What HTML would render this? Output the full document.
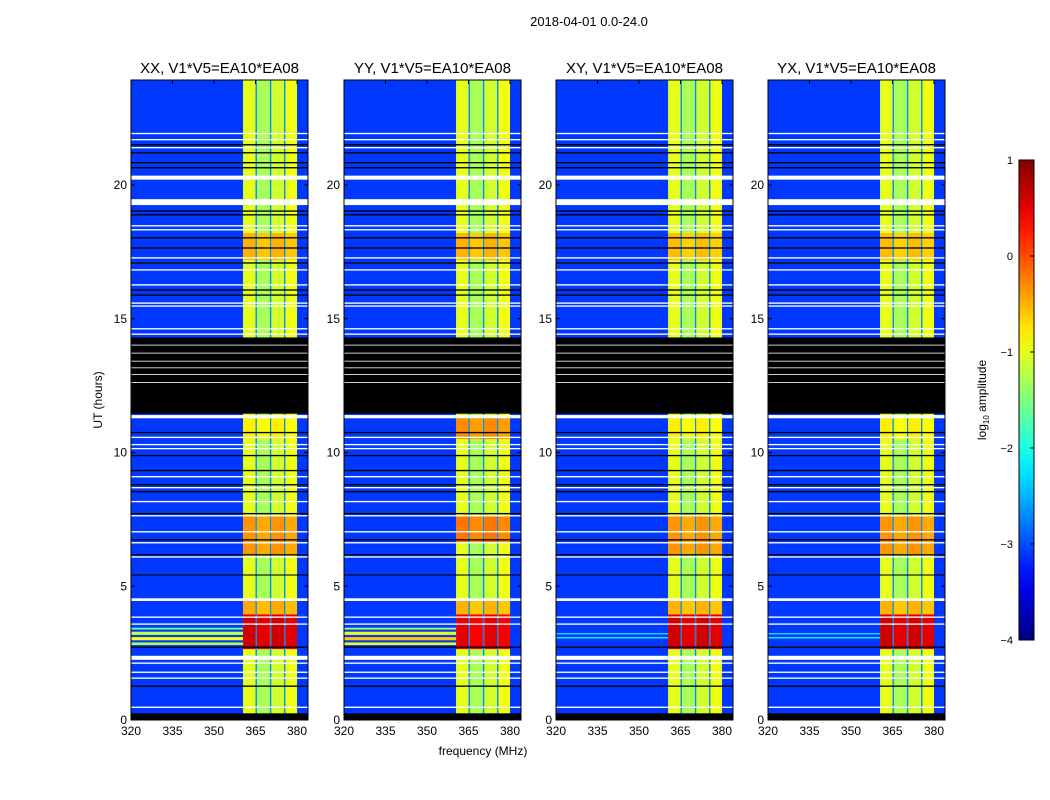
<!DOCTYPE html>
<html><head><meta charset="utf-8"><style>
body{margin:0;background:#fff;}
svg{display:block;font-family:"Liberation Sans",sans-serif;}
</style></head><body>
<svg id="fig" width="1050" height="800" viewBox="0 0 1050 800">
<text x="589" y="26" font-size="13" text-anchor="middle">2018-04-01 0.0-24.0</text>
<text x="483" y="755" font-size="12" text-anchor="middle">frequency (MHz)</text>
<text transform="translate(102,400) rotate(-90)" font-size="12" text-anchor="middle">UT (hours)</text>
<g id="panels"></g>
<g id="cbar"></g>
<text transform="translate(986,400) rotate(-90)" font-size="12" text-anchor="middle">log<tspan font-size="8" dy="3">10</tspan><tspan dy="-3"> amplitude</tspan></text>
</svg>
<script>
const panelTitles=["XX, V1*V5=EA10*EA08","YY, V1*V5=EA10*EA08","XY, V1*V5=EA10*EA08","YX, V1*V5=EA10*EA08"];
const panelLeft=[131,344,556,768];
const xTicks=[320,335,350,365,380];
const yTicks=[0,5,10,15,20];
const cbTicks=[1,0,-1,-2,-3,-4];
const bgValue=-3.1;
const gapValue=-2.7;
const bandCols=[[360.5,365],[365.5,370.2],[370.7,375.3],[375.8,380]];
const bandColBase=[-1.0,-1.3,-1.1,-0.95];
const bandSegsXX=[[2.65,3.95,0.6],[3.95,4.5,-0.45],[6.2,7.65,-0.35],[10.5,11.4,-0.8],[17.2,18.2,-0.5]];
const bandSegsYY=[[2.65,3.95,0.5],[3.95,4.5,-0.5],[6.6,7.65,-0.2],[10.5,11.4,-0.3],[17.2,18.2,-0.5]];
const bandSegsXY=[[2.65,3.95,0.6],[3.95,4.5,-0.5],[6.2,7.65,-0.35],[10.5,11.4,-0.8],[17.2,18.2,-0.55]];
const bandSegsYX=[[2.65,3.95,0.6],[3.95,4.5,-0.5],[6.2,7.65,-0.35],[10.5,11.4,-0.8],[17.2,18.2,-0.55]];
const lowHotXX=[[2.8,2.9,-1.3],[2.98,3.1,-0.9],[3.18,3.3,-1.2],[3.38,3.45,-1.6]];
const lowHotYY=[[2.8,2.9,-1.0],[2.98,3.1,-0.6],[3.18,3.3,-1.0],[3.38,3.45,-1.3]];
const lowHotXY=[[3.05,3.1,-2.0],[3.2,3.25,-2.2]];
const lowHotYX=[[3.05,3.1,-2.0],[3.2,3.25,-2.2]];
const whiteFlags=[[21.9,0.05],[21.67,0.05],[21.37,0.05],[20.2,0.15],[19.25,0.22],[18.45,0.05],[18.3,0.05],[17.25,0.05],[16.8,0.05],[16.24,0.05],[15.56,0.05],[15.45,0.05],[14.6,0.05],[14.4,0.05],[11.28,0.12],[10.54,0.05],[10.27,0.05],[10.12,0.05],[9.07,0.05],[8.66,0.05],[8.14,0.05],[7.61,0.05],[7.01,0.05],[6.6,0.05],[6.07,0.05],[4.45,0.1],[3.82,0.05],[3.56,0.05],[2.25,0.15],[2.1,0.05],[1.76,0.05],[1.54,0.05],[0.45,0.05]];
const blackFlags=[[21.48,0.05],[21.18,0.05],[20.81,0.05],[20.62,0.05],[19.0,0.05],[18.86,0.05],[18.0,0.05],[17.62,0.05],[17.06,0.05],[16.05,0.05],[15.86,0.05],[10.72,0.05],[9.86,0.05],[9.3,0.05],[8.77,0.05],[8.51,0.05],[7.69,0.05],[6.71,0.05],[6.15,0.05],[5.4,0.04],[2.7,0.05],[1.24,0.05],[0,0.25],[11.45,2.85]];
const whiteInBlack=[[12.6,0.03],[12.9,0.03],[13.15,0.03],[13.4,0.03],[13.7,0.03],[14.0,0.03]];
const allSegs=[bandSegsXX,bandSegsYY,bandSegsXY,bandSegsYX];
const allLow=[lowHotXX,lowHotYY,lowHotXY,lowHotYX];

const NS="http://www.w3.org/2000/svg";
const yTop=80,yBot=720,pxPerH=26.75,pxPerMHz=2.767,pw=177;
function yS(h){return Math.max(yTop,yBot-h*pxPerH);}
function jet(v){const t=Math.min(1,Math.max(0,(v+4)/5));const c=x=>Math.round(255*Math.min(1,Math.max(0,x)));
return `rgb(${c(1.5-Math.abs(4*t-3))},${c(1.5-Math.abs(4*t-2))},${c(1.5-Math.abs(4*t-1))})`;}
function el(tag,attrs,parent){const e=document.createElementNS(NS,tag);for(const k in attrs)e.setAttribute(k,attrs[k]);parent.appendChild(e);return e;}
const panels=document.getElementById('panels');
function rowRect(g,x0,h0,h1,w,fill,name){const r=el('rect',{x:x0,y:yS(h1),width:w,height:Math.max(0.8,yS(h0)-yS(h1)),fill:fill},g);

return r;}
panelLeft.forEach((L,p)=>{
  const xS=f=>L+(f-320)*pxPerMHz;
  const g=el('g',{},panels);
  
  
  rowRect(g,L,0,24,pw,jet(bgValue),'background-cells');
  allLow[p].forEach(s=>rowRect(g,L,s[0],s[1],xS(360.5)-L,jet(s[2]),'low-freq-hot-row'));
  rowRect(g,xS(360.5),0,24,xS(380)-xS(360.5),jet(gapValue),'band-gap-cells');
  bandCols.forEach((c,ci)=>{
    rowRect(g,xS(c[0]),0,24,xS(c[1])-xS(c[0]),jet(bandColBase[ci]),'band-column');
    allSegs[p].forEach(s=>rowRect(g,xS(c[0]),s[0],s[1],xS(c[1])-xS(c[0]),jet(s[2]+(ci%2?-0.1:0)),'band-hot-cell'));
  });
  blackFlags.forEach(f=>rowRect(g,L,f[0],f[0]+f[1],pw,'#000','flag-black'));
  whiteFlags.forEach(f=>rowRect(g,L,f[0],f[0]+f[1],pw,'#fff','flag-white'));
  whiteInBlack.forEach(f=>rowRect(g,L,f[0],f[0]+f[1],pw,'#fff','flag-white'));
  const fr=el('rect',{x:L,y:yTop,width:pw,height:yBot-yTop,fill:'none',stroke:'#000','stroke-width':1},g);
  
  
  const t=el('text',{x:L+pw/2,y:73,'font-size':15,'text-anchor':'middle'},g);t.textContent=panelTitles[p];
  
  
  xTicks.forEach(v=>{const x=xS(v);
    el('line',{x1:x,x2:x,y1:yBot,y2:yBot-4,stroke:'#000'},g);el('line',{x1:x,x2:x,y1:yTop,y2:yTop+4,stroke:'#000'},g);
    const tx=el('text',{x:x,y:yBot+15,'font-size':12,'text-anchor':'middle'},g);tx.textContent=v;
    
    });
  yTicks.forEach(v=>{const y=yS(v);
    el('line',{x1:L,x2:L+4,y1:y,y2:y,stroke:'#000'},g);el('line',{x1:L+pw,x2:L+pw-4,y1:y,y2:y,stroke:'#000'},g);
    const ty=el('text',{x:L-4,y:y+4,'font-size':12,'text-anchor':'end'},g);ty.textContent=v;
    
    });
});
const cb=document.getElementById('cbar');
const cbX=1019,cbW=15,cbTop=160,cbBot=640;
const defs=el('defs',{},cb);const lg=el('linearGradient',{id:'jetg',x1:0,y1:1,x2:0,y2:0},defs);
for(let i=0;i<=20;i++){el('stop',{offset:i/20,'stop-color':jet(-4+5*i/20)},lg);}
const cr=el('rect',{x:cbX,y:cbTop,width:cbW,height:cbBot-cbTop,fill:'url(#jetg)',stroke:'#000'},cb);


cbTicks.forEach(v=>{const y=cbBot-(v+4)/5*(cbBot-cbTop);
  el('line',{x1:cbX+cbW,x2:cbX+cbW-4,y1:y,y2:y,stroke:'#000'},cb);
  const t=el('text',{x:1013,y:y+4,'font-size':11,'text-anchor':'end'},cb);t.textContent=v<0?'\u2212'+(-v):v;
  
  });
</script>
</body></html>
